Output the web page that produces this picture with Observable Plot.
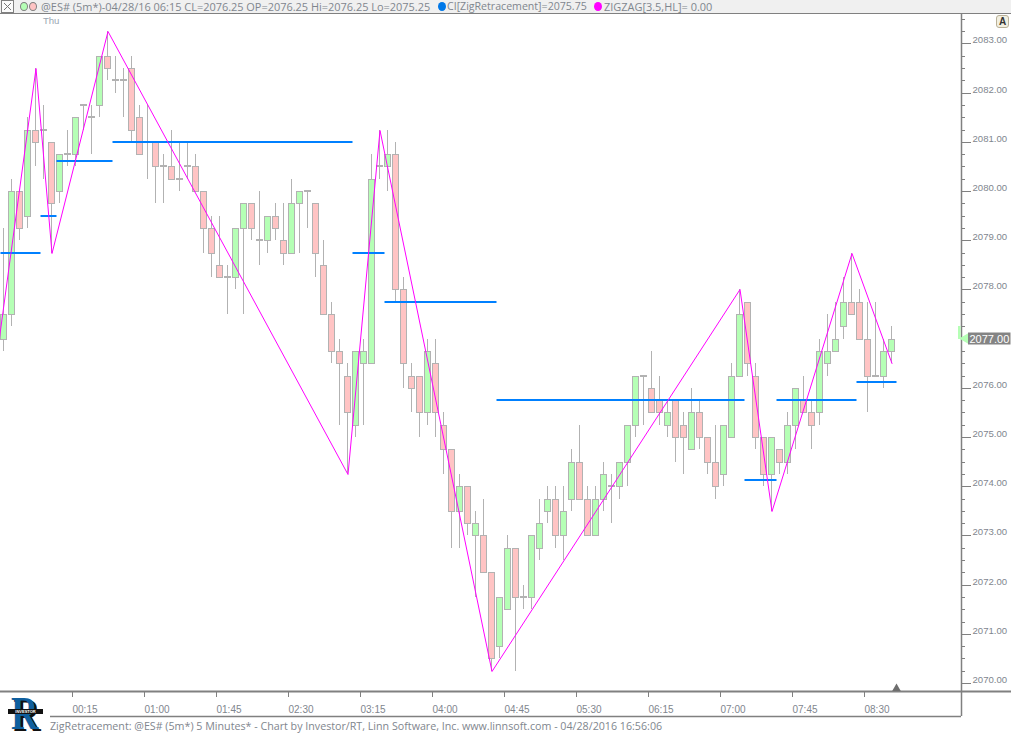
<!DOCTYPE html>
<html>
<head>
<meta charset="utf-8">
<script src="https://cdn.jsdelivr.net/npm/d3@7"></script>
<script src="https://cdn.jsdelivr.net/npm/@observablehq/plot@0.6"></script>
<style>
html,body{margin:0;padding:0;background:#fff;overflow:hidden}
#page{position:relative;width:1011px;height:733px;font-family:"Open Sans",sans-serif;color:#7f868e}
#page svg{display:block}
#head{height:13px;background:#f0f0f0;border-bottom:1px solid #808080;position:relative}
#head span{position:absolute;top:0;font-size:10.95px;line-height:13px;white-space:nowrap}
#foot{position:relative;height:17px;margin-left:50px;width:911px;font-size:10.7px;white-space:nowrap}
#foot span{position:absolute;left:0;top:3px;line-height:14px}
.dot{position:absolute;width:8px;height:9px;border-radius:50%;top:2px;box-sizing:border-box}
#x{position:absolute;left:1px;top:0;width:13px;height:13px;box-sizing:border-box;border:1px solid #808080;background:#fbfbfb}
#a{position:absolute;left:996px;top:15px;width:13px;height:13px;box-sizing:border-box;border:1px solid #b8b098;border-radius:3px;background:#f2efe0;font:bold 10px/11px "Liberation Sans";color:#333;text-align:center}
#logo{position:absolute;left:8px;top:691px;width:36px;height:42px}
#logo b{position:absolute;left:3px;top:3px;font:bold 46px/40px "Liberation Serif";color:#0f5f9e;text-shadow:3px 2px 0 #111;transform:scaleX(.82);transform-origin:0 0}
#logo i{position:absolute;left:0;top:18px;width:35px;height:5px;background:#111;color:#fff;font:bold 4px/5px "Liberation Sans";text-align:center}
</style>
</head>
<body>
<div id="page">
  <div id="head">
    <div id="x"><svg width="11" height="11"><path d="M2 2L9 9M9 2L2 9" stroke="#777" fill="none"/></svg></div>
    <div class="dot" style="left:20px;background:#b5ffb5;border:1px solid #808080"></div>
    <div class="dot" style="left:29px;background:#ffc4c4;border:1px solid #808080"></div>
    <span style="left:41px">@ES# (5m*)-04/28/16 06:15 CL=2076.25 OP=2076.25 Hi=2076.25 Lo=2075.25</span>
    <div class="dot" style="left:438px;background:#0078e8"></div>
    <span style="left:447px;font-size:10.6px">CI[ZigRetracement]=2075.75</span>
    <div class="dot" style="left:594px;background:#ff00ff"></div>
    <span style="left:604px">ZIGZAG[3.5,HL]= 0.00</span>
  </div>
  <div id="chart"></div>
  <div id="foot"><span>ZigRetracement: @ES# (5m*) 5 Minutes* - Chart by Investor/RT, Linn Software, Inc. www.linnsoft.com - 04/28/2016 16:56:06</span></div>
  <div id="a">A</div>
  <div id="logo"><b>R</b><i>INVESTOR</i></div>
</div>
<script>
// Prices are stored less 2000 and restored below.
const opens = [77,77.5,80,79.5,81.25,81.25,81,80,80.75,80.75,81.75,81.5,81.75,82.75,82.25,82.25,82.5,81.5,81,81,80.5,80.5,80.25,80.5,80.5,80,79.25,78.5,78.25,78.25,79.25,79.75,79,79,79.5,79,78.75,79.75,80,79.75,78.5,77.5,76.75,76.25,75.25,76.5,76.5,80.5,80.5,80.75,78,76.25,76.25,75.5,76.5,75.25,74.75,73.5,74,73,73,72.25,70.75,71.5,72.75,71.75,71.75,72.75,73.5,73.75,73,73.75,74.5,73.75,73,73.75,74,74,74.5,75.25,76.25,76,75.75,75.25,75.75,75.25,74.75,75.5,75,74.5,74.25,75,76.25,77.75,76.25,75,74.25,74.75,74.5,75.25,75.75,75.5,75.5,76.5,76.75,77.25,77.75,77.75,77,76.25,76.25,76.75];
const highs = [79.25,80.25,80,81.5,82.5,81.75,81,80.75,81.25,81.5,81.75,81.75,82.75,83.25,82.75,82.5,82.75,81.75,81.75,81,80.75,81.25,81,81,80.75,80,79.5,79.5,78.5,79.25,79.75,79.75,80,79.5,79.75,79.75,80.25,80,80,79.75,79,77.75,77,76.5,76.75,77,80.75,81.25,81.25,81,78.25,76.5,76.25,77,77,75.5,74.75,74.25,74,73.5,73.75,72.25,71.75,73,72.75,72,73,73.75,74,74,74,74.75,75.25,74,74,74.5,74.25,74.5,75.25,76.25,76.25,76.75,76.25,75.75,75.75,75.5,76,75.75,75,75.25,75.25,76.5,78,77.75,76.5,75,75,74.75,75.5,76,76.25,75.75,77,77.5,77.75,78.25,78.75,78,77.75,77.75,77,77.25];
const lows = [76.75,77.25,79,79.25,80.5,80.25,78.75,79.75,80.5,80.5,81.25,80.75,81.5,82.25,82,81.5,81,80.75,80.25,79.75,79.75,80.25,80,80.25,80,78.75,78.25,78.25,77.5,78,77.5,79,78.5,78.75,79,78.5,78.75,78.75,79.25,78.25,77.5,76.5,75.25,74.25,75,75.25,76.5,80.25,80,77.75,76,75.5,75,75.25,75,74.25,72.75,72.75,73,71.75,72.25,70.25,70.5,71.5,70.25,71.5,71.5,72.5,73.25,72.75,72.5,73.5,73.75,73,73,73.5,73.25,73.75,74,75,75.25,75.5,75.25,75,74.5,74.25,74.75,74.75,74.25,73.75,74,75,76.25,76.25,74.75,74,73.5,74.25,74.25,74.75,75.5,74.75,75.25,76.25,76.75,77,77.5,77,75.5,76.25,76,76.5];
const closes = [77.5,80,79.25,81.25,81,81.25,79.75,80.75,80.75,81.5,81.75,81.5,82.75,82.5,82.25,82.25,81.25,80.75,81,80.5,80.5,80.25,80.25,80.5,80,79.25,78.75,78.25,78.25,79.25,79.75,79.25,79,79.5,79.25,78.75,79.75,80,80,78.75,77.5,76.75,76.5,75.5,76.75,76.75,80.25,80.5,80.75,78,76.5,76,75.5,76.75,75.5,74.75,73.5,74,73.25,73.25,72.25,70.5,71.75,72.75,71.75,71.75,73,73.25,73.75,73,73.5,74.5,73.75,73,73.75,74.25,74,74.5,75.25,76.25,76.25,75.5,75.5,75.5,75,75,75.5,75,74.5,74,75.25,76.25,77.5,76.5,75,74.25,75,74.5,75.25,76,75.5,75.25,76.75,76.75,77,77.75,77.5,77,76.25,76.25,76.75,77];

// ZIGZAG[3.5,HL] pivots: bar number, price less 2000
const pivotBars = [-1,4,6,13,43,47,61,92,96,106,111];
const pivotPrices = [76.5,82.5,78.75,83.25,74.25,81.25,70.25,78,73.5,78.75,76.5];

// CI[ZigRetracement] levels: first bar, bar after last, price less 2000
const levelFrom = [0,5,7,14,44,48,62,93,97,107];
const levelTo = [5,7,14,44,48,62,93,97,107,112];
const levelPrice = [78.75,79.5,80.6,81,78.75,77.75,75.75,74.125,75.75,76.125];

const timeLabels = ["00:15","01:00","01:45","02:30","03:15","04:00","04:45","05:30","06:15","07:00","07:45","08:30"];
const barsPerLabel = 9;
const lastClose = 2077;

const BASE = 2000;
const bars = opens.map((o,i)=>({i,o:o+BASE,h:highs[i]+BASE,l:lows[i]+BASE,c:closes[i]+BASE}));
const bodies = bars.filter(d=>d.o!==d.c);
const dojis = bars.filter(d=>d.o===d.c);
const pivots = pivotBars.map((b,k)=>({b,p:pivotPrices[k]+BASE}));
const levels = levelPrice.map((p,k)=>({a:levelFrom[k],b:levelTo[k],p:p+BASE}));
const timeTicks = timeLabels.map((t,k)=>barsPerLabel*(k+1));
const timeFmt = d=>timeLabels[d/barsPerLabel-1];

const W=1011,H=702,MR=50,MB=25;
const pxPerBar=8, pxPerPoint=49.2;
const plotW=W-MR, plotH=H-MB;
const xMax=plotW/pxPerBar;
const yMin=2070-8/pxPerPoint, yMax=yMin+plotH/pxPerPoint;
const bar=px=>px/pxPerBar, pt=px=>px/pxPerPoint;

const major=d3.range(2070,2084);
const minor=d3.range(2070,2083.75,0.25).filter(v=>!Number.isInteger(v));
const GREY="#b2b2b2", AXIS="#808080", TXT="#7f868e";

const chart=Plot.plot({
  width:W,height:H,marginLeft:0,marginRight:MR,marginTop:0,marginBottom:MB,
  style:{background:"transparent",fontFamily:'"Open Sans",sans-serif',overflow:"visible"},
  x:{domain:[0,xMax],range:[0,plotW],axis:null},
  y:{domain:[yMin,yMax],range:[plotH,0],round:true,axis:null},
  marks:[
    Plot.ruleX(bars,{x:d=>d.i+bar(3),y1:"l",y2:"h",stroke:GREY,strokeWidth:1}),
    Plot.rect(bodies,{x1:d=>d.i+bar(.5),x2:d=>d.i+bar(6.5),y1:"o",y2:"c",
      fill:d=>d.c>d.o?"#b5ffb5":"#ffc4c4",stroke:GREY,strokeWidth:1,dy:.5}),
    Plot.ruleY(dojis,{y:"c",x1:d=>d.i,x2:d=>d.i+bar(7),stroke:GREY,strokeWidth:2,dy:-.5}),
    Plot.ruleY(levels,{y:"p",x1:"a",x2:"b",stroke:"#0080ff",strokeWidth:2,dy:-.5,dx:.5}),
    Plot.line(pivots,{x:d=>d.b+bar(3),y:"p",stroke:"#ff00ff",strokeWidth:1,dx:.5,clip:true}),
    Plot.axisY(major,{anchor:"right",tickSize:9,tickFormat:()=>"",label:null,stroke:AXIS}),
    Plot.axisY(minor,{anchor:"right",tickSize:3,tickFormat:()=>"",label:null,stroke:AXIS}),
    Plot.text(major,{y:d=>d,text:d=>d.toFixed(2),frameAnchor:"right",dx:11,dy:-4,textAnchor:"start",fontSize:9.6,fill:TXT,fontFamily:"Liberation Sans"}),
    Plot.axisX(timeTicks,{anchor:"bottom",tickSize:6,tickPadding:8,tickFormat:timeFmt,textAnchor:"start",label:null,fontSize:10,stroke:AXIS,fill:TXT,fontFamily:"Liberation Sans"}),
    Plot.text(["Thu"],{x:()=>5.3,frameAnchor:"top",dy:3,textAnchor:"start",fontSize:9.6,fill:"#9aa6b2",fontFamily:"Liberation Sans"}),
    Plot.ruleX([xMax],{y1:yMax,y2:yMin-pt(MB),stroke:AXIS,strokeWidth:1.5}),
    Plot.ruleY([yMin],{x1:0,x2:bar(W),stroke:AXIS,strokeWidth:2}),
    Plot.ruleY([yMin-pt(MB)],{x1:bar(50),x2:xMax,stroke:AXIS,strokeWidth:1.5}),
    Plot.dot([0],{x:()=>bar(896),frameAnchor:"bottom",dy:-3,symbol:"triangle",r:3.2,fill:"#6e6e6e"}),
    // last-price marker
    Plot.rect([lastClose],{x1:xMax-bar(3),x2:xMax-bar(.4),y1:d=>d,y2:d=>d+pt(13),fill:"#b5ffb5"}),
    Plot.dot([lastClose],{x:xMax+bar(4),y:d=>d,dy:-1,symbol:"triangle",r:4,rotate:-90,fill:"#b5ffb5"}),
    Plot.rect([lastClose],{x1:xMax+bar(7),x2:bar(W-.5),y1:d=>d+pt(6),y2:d=>d-pt(6),dy:-.5,fill:"#848484"}),
    Plot.text([lastClose],{x:()=>xMax+bar(8),y:d=>d,text:d=>d.toFixed(2),textAnchor:"start",fontSize:11,fill:"#fff",fontFamily:"Liberation Sans"})
  ]
});
document.getElementById("chart").appendChild(chart);
</script>
</body>
</html>
